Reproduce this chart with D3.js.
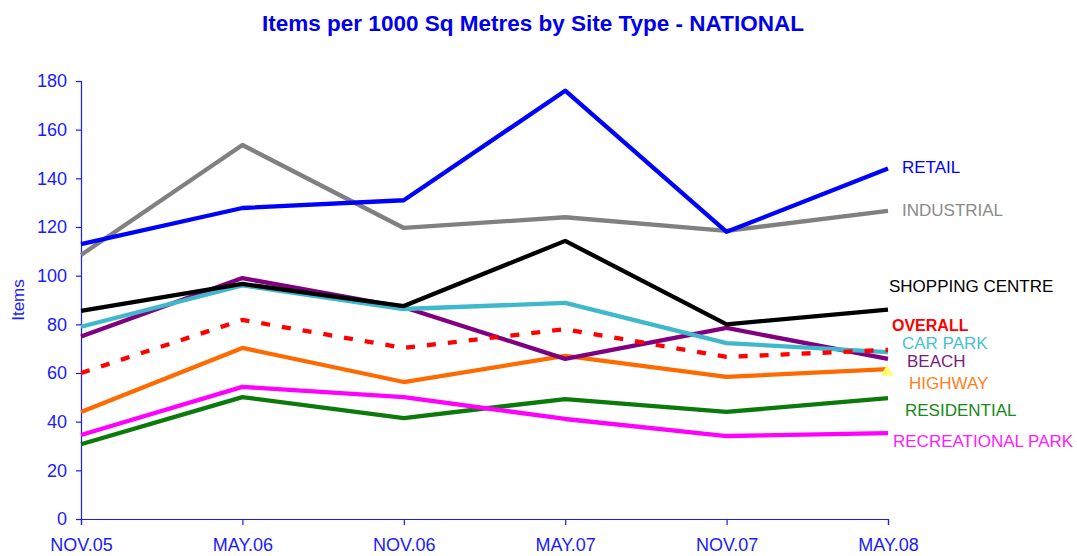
<!DOCTYPE html>
<html>
<head>
<meta charset="utf-8">
<script src="https://cdn.jsdelivr.net/npm/d3@7"></script>
<style>
  body { margin: 0; background: #fff; }
  text { font-family: "Liberation Sans", Arial, sans-serif; }
</style>
</head>
<body>
<div id="chart"></div>
<script>
// periods along the x axis
var periods = ["NOV.05", "MAY.06", "NOV.06", "MAY.07", "NOV.07", "MAY.08"];
var yTicks = [0, 20, 40, 60, 80, 100, 120, 140, 160, 180];

// values per site type (items per 1000 sq metres)
var retail       = [113, 127.8, 131, 176, 118, 144];
var industrial   = [108.5, 153.7, 119.6, 124, 118.4, 126.6];
var shopping     = [85.5, 96.6, 87.5, 114.3, 80, 86];
var carPark      = [79, 96, 86.3, 88.8, 72.3, 68.6];
var beach        = [75, 99, 87, 65.8, 78.5, 65.8];
var overall      = [60, 81.8, 70.3, 78, 66.6, 69.5];
var highway      = [44, 70.3, 56.3, 67, 58.4, 61.6];
var recreational = [34.5, 54.3, 50.1, 41.1, 34.1, 35.3];
var residential  = [30.7, 50.1, 41.5, 49.3, 44, 49.7];

// lx/ly = label position (baseline) to the right of the plot
var series = [
	{name: "INDUSTRIAL", values: industrial, color: "#808080", label: "#8a8a8a", lx: 902, ly: 216},
	{name: "RETAIL", values: retail, color: "#0000ff", label: "#0000ff", lx: 902, ly: 173},
	{name: "RESIDENTIAL", values: residential, color: "#0a7a0a", label: "#158a15", lx: 905, ly: 416},
	{name: "RECREATIONAL PARK", values: recreational, color: "#ff00ff", label: "#ff1aff", lx: 893, ly: 447},
	{name: "HIGHWAY", values: highway, color: "#ff6a00", label: "#ff7f20", lx: 909, ly: 389},
	{name: "BEACH", values: beach, color: "#800080", label: "#7a1a80", lx: 907, ly: 367},
	{name: "CAR PARK", values: carPark, color: "#40b8cc", label: "#48c0d4", lx: 902, ly: 349},
	{name: "SHOPPING CENTRE", values: shopping, color: "#000000", label: "#000000", lx: 889, ly: 292},
	{name: "OVERALL", values: overall, color: "#ff0000", label: "#ff0000", lx: 892, ly: 331, dashed: true, bold: true}
];

var width = 1077, height = 556;
var margin = {top: 81, left: 81, right: 189, bottom: 37}; //plot area edges

var svg = d3.select("#chart").append("svg")
	.attr("width", width)
	.attr("height", height);

var x = d3.scalePoint()
	.domain(periods)
	.range([margin.left, width - margin.right]);

var y = d3.scaleLinear()
	.domain([0, 180])
	.range([height - margin.bottom, margin.top]);

var axisColor = "#1a1aff";
var font = "'Liberation Sans', Arial, sans-serif";

// title
svg.append("text")
	.attr("x", 533)
	.attr("y", 31)
	.attr("text-anchor", "middle")
	.style("font-size", "22.5px")
	.style("font-weight", "bold")
	.style("fill", "#0000ee")
	.text("Items per 1000 Sq Metres by Site Type - NATIONAL");

// y axis
var yAxis = svg.append("g")
	.attr("transform", "translate(" + margin.left + ",0)")
	.call(d3.axisLeft(y).tickValues(yTicks).tickSize(5).tickPadding(9));
yAxis.selectAll("text").style("font-size", "18px").style("fill", axisColor)
	.style("font-family", font);

// x axis
var xAxis = svg.append("g")
	.attr("transform", "translate(0," + y(0) + ")")
	.call(d3.axisBottom(x).tickSize(6).tickPadding(13));
xAxis.selectAll("text").style("font-size", "18px").style("fill", axisColor)
	.style("font-family", font);

svg.selectAll(".domain, .tick line").attr("stroke", axisColor).attr("stroke-width", 1.2);

// y axis title
svg.append("text")
	.attr("transform", "translate(24," + ((y(0) + y(180)) / 2) + ") rotate(-90)")
	.attr("text-anchor", "middle")
	.style("font-size", "17px")
	.style("fill", axisColor)
	.text("Items");

// lines
var line = d3.line()
	.x((d, i) => x(periods[i]))
	.y(d => y(d));

svg.append("g").selectAll("path")
	.data(series)
	.enter().append("path")
		.attr("d", d => line(d.values))
		.attr("fill", "none")
		.attr("stroke", d => d.color)
		.attr("stroke-width", 4.3)
		.attr("stroke-linejoin", "round")
		.attr("stroke-dasharray", d => d.dashed ? "9,12" : null);

// small yellow marker at the end of highway
svg.append("path")
	.attr("d", d3.symbol().type(d3.symbolTriangle).size(70)())
	.attr("transform", "translate(" + (x(periods[5]) - 1) + "," + (y(highway[5]) + 3) + ")")
	.attr("fill", "#ffff70");

// series labels
svg.append("g").selectAll("text")
	.data(series)
	.enter().append("text")
		.attr("x", d => d.lx)
		.attr("y", d => d.ly)
		.style("font-size", d => d.bold ? "16px" : "17px")
		.style("font-weight", d => d.bold ? "bold" : "normal")
		.style("fill", d => d.label)
		.text(d => d.name);
</script>
</body>
</html>
